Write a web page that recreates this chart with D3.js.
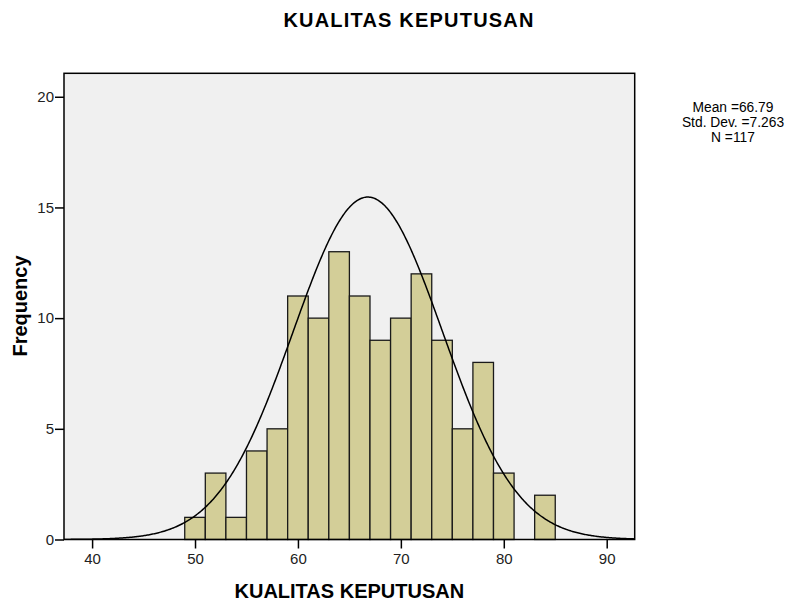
<!DOCTYPE html>
<html>
<head>
<meta charset="utf-8">
<script src="https://cdn.jsdelivr.net/npm/d3@7"></script>
<style>
  body { margin: 0; background: #fff; }
  svg { display: block; font-family: Arial, "Liberation Sans", sans-serif; }
</style>
</head>
<body>
<script>
// histogram bins (lower edge) and frequencies
const binStarts = [49, 51, 53, 55, 57, 59, 61, 63, 65, 67, 69, 71, 73, 75, 77, 79, 81, 83];
const counts    = [ 1,  3,  1,  4,  5, 11, 10, 13, 11,  9, 10, 12,  9,  5,  8,  3,  0,  2];
const binWidth = 2;

const xTicks = [40, 50, 60, 70, 80, 90];
const yTicks = [0, 5, 10, 15, 20];

// fitted normal curve stats
const mean = 66.79, sd = 7.263, n = 117;
const curvePeak = 15.47; // height of curve top as drawn

const title = "KUALITAS KEPUTUSAN";
const statLines = ["Mean =66.79", "Std. Dev. =7.263", "N =117"];

const W = 796, H = 602;
const plot = { left: 64, right: 634.7, top: 73.3, bottom: 539.5 };

const svg = d3.select("body").append("svg")
  .attr("width", W).attr("height", H);

const x = d3.scaleLinear().domain([37.27, 92.72]).range([plot.left, plot.right]);
const y = d3.scaleLinear().domain([0, 21.06]).range([plot.bottom, plot.top]);

// background
svg.append("rect")
  .attr("x", plot.left).attr("y", plot.top)
  .attr("width", plot.right - plot.left).attr("height", plot.bottom - plot.top)
  .attr("fill", "#f0f0f0");

svg.append("clipPath").attr("id", "clip")
  .append("rect")
  .attr("x", plot.left).attr("y", plot.top)
  .attr("width", plot.right - plot.left).attr("height", plot.bottom - plot.top);

// bars
const bins = binStarts.map((b, i) => ({ x0: b, x1: b + binWidth, v: counts[i] }));
svg.append("g")
  .selectAll("rect")
  .data(bins.filter(d => d.v > 0))
  .join("rect")
    .attr("x", d => x(d.x0))
    .attr("y", d => y(d.v))
    .attr("width", d => x(d.x1) - x(d.x0))
    .attr("height", d => y(0) - y(d.v))
    .attr("fill", "#d3ce98")
    .attr("stroke", "#1a1a1a")
    .attr("stroke-width", 1.3);

// normal curve
const curvePts = d3.range(x.domain()[0], x.domain()[1] + 0.1, 0.1)
  .map(v => [v, curvePeak * Math.exp(-0.5 * ((v - mean) / sd) ** 2)]);
svg.append("path")
  .datum(curvePts)
  .attr("clip-path", "url(#clip)")
  .attr("fill", "none")
  .attr("stroke", "#000")
  .attr("stroke-width", 1.5)
  .attr("d", d3.line().x(d => x(d[0])).y(d => y(d[1])));

// frame
svg.append("rect")
  .attr("x", plot.left).attr("y", plot.top)
  .attr("width", plot.right - plot.left).attr("height", plot.bottom - plot.top)
  .attr("fill", "none").attr("stroke", "#000").attr("stroke-width", 1.5);

// axes
const xAxis = svg.append("g")
  .attr("transform", `translate(0,${plot.bottom})`)
  .call(d3.axisBottom(x).tickValues(xTicks).tickSize(9).tickPadding(5));
const yAxis = svg.append("g")
  .attr("transform", `translate(${plot.left},0)`)
  .call(d3.axisLeft(y).tickValues(yTicks).tickSize(9).tickPadding(1));
[xAxis, yAxis].forEach(a => {
  a.select(".domain").remove();
  a.selectAll(".tick line").attr("stroke", "#000").attr("stroke-width", 1.5);
  a.selectAll(".tick text").attr("fill", "#222").style("font-size", "15px")
    .style("font-family", "Arial, 'Liberation Sans', sans-serif");
});

// titles
svg.append("text")
  .attr("x", 409).attr("y", 27)
  .attr("text-anchor", "middle")
  .style("font-size", "20px").style("font-weight", "bold")
  .style("letter-spacing", "1.2px")
  .text(title);

svg.append("text")
  .attr("x", (plot.left + plot.right) / 2).attr("y", 598)
  .attr("text-anchor", "middle")
  .style("font-size", "20px").style("font-weight", "bold")
  .text(title);

svg.append("text")
  .attr("transform", `translate(27,306) rotate(-90)`)
  .attr("text-anchor", "middle")
  .style("font-size", "20px").style("font-weight", "bold")
  .text("Frequency");

// stats box
svg.append("g")
  .selectAll("text")
  .data(statLines)
  .join("text")
    .attr("x", 733).attr("y", (d, i) => 112 + i * 15)
    .attr("text-anchor", "middle")
    .style("font-size", "13.8px")
    .text(d => d);
</script>
</body>
</html>
